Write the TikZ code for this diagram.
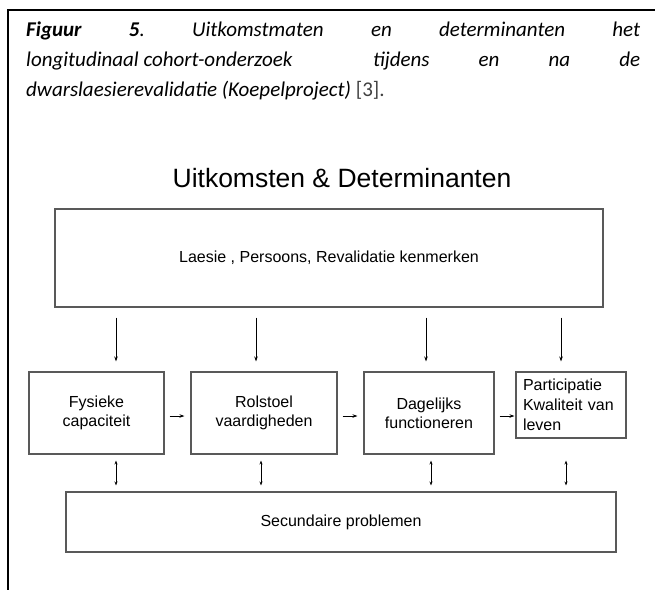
\documentclass[tikz,border=0pt]{standalone}
\usepackage{fontspec}
\setmainfont{Carlito}
\newfontfamily\arialfont{Liberation Sans}
\usetikzlibrary{arrows.meta,positioning}

\tikzset{
  box/.style={draw=black!65,line width=1.1pt,inner sep=0pt,align=center,
    font=\arialfont\fontsize{16}{19}\selectfont},
  arr/.style={-{Stealth[length=5pt,width=3.5pt]},line width=0.9pt},
  arrs/.style={{Stealth[length=4pt,width=3pt]}-{Stealth[length=4pt,width=3pt]},line width=0.9pt},
  capline/.style={anchor=west,inner sep=0pt,font=\fontsize{21}{30}\selectfont\itshape}
}

\begin{document}
\begin{tikzpicture}[x=1pt,y=-1pt]
\useasboundingbox (0,0) rectangle (655,590);
\draw[line width=2pt] (655,10) -- (8,10) -- (8,590);

\node[capline] (cap1) at (26,31) {\hbox to 614pt{\textbf{Figuur}\hfill\textbf{5}.\hfill Uitkomstmaten\hfill en\hfill determinanten\hfill het}};
\node[capline] (cap2) at (26,61) {\hbox to 614pt{longitudinaal cohort-onderzoek\hfill\hspace{1.5em}tijdens\hfill en\hfill na\hfill de}};
\node[capline] (cap3) at (26,91) {dwarslaesierevalidatie (Koepelproject) {\upshape\color{black!75}[3].}};

\node[font=\arialfont\fontsize{26.5}{30}\selectfont] (title) at (342,178) {Uitkomsten \& Determinanten};

\node[box,minimum width=548,minimum height=98] (lpr) at (329,258) {Laesie , Persoons, Revalidatie kenmerken};

\node[box,minimum width=135,minimum height=82] (fys) at (96.5,413) {Fysieke\\capaciteit};
\node[box,minimum width=146,minimum height=82] (rol) at (264,413) {Rolstoel\\vaardigheden};
\node[box,minimum width=130,minimum height=82] (dag) at (429,413) {Dagelijks\\functioneren};
\node[box,minimum width=110,minimum height=66,align=left,text width=96,
  font=\arialfont\fontsize{16}{20}\selectfont] (part) at (571,405) {Participatie\\Kwaliteit van\\leven};

\node[box,minimum width=550,minimum height=60] (sec) at (341,522) {Secundaire problemen};

\foreach \n/\dx in {fys/19.5,rol/-8,dag/-3,part/-10}
  \draw[arr] ([xshift=\dx pt,yshift=-10pt]lpr.south -| \n.north) -- ([xshift=\dx pt,yshift=10pt]\n.north);

\foreach \a/\b/\s in {fys/rol/6,rol/dag/6,dag/part/1}
  \draw[arr,shorten <=5pt,shorten >=\s pt] ([yshift=-3pt]\a.east) -- ([yshift=-3pt]\a.east -| \b.west);

\foreach \n/\dx in {fys/19.5,rol/-3,dag/2,part/-5}
  \draw[arrs] ([xshift=\dx pt,yshift=-6pt]\n.center |- fys.south) -- ([xshift=\dx pt,yshift=6pt]sec.north -| \n.center);
\end{tikzpicture}
\end{document}
